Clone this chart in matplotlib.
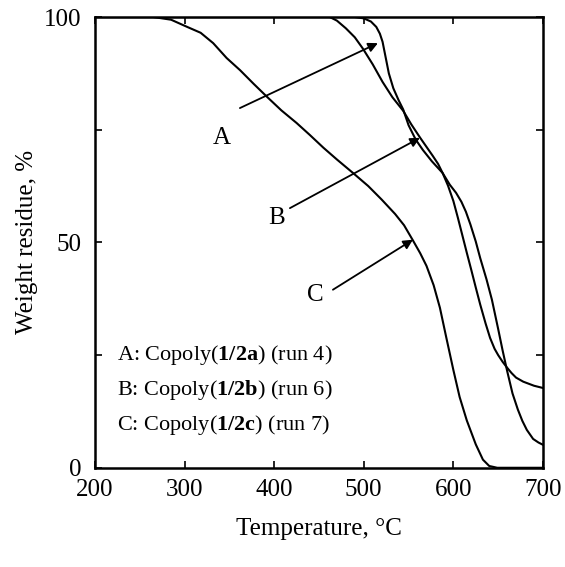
import matplotlib
matplotlib.use('Agg')
import matplotlib.pyplot as plt

plt.rcParams['font.family'] = ['Liberation Serif', 'DejaVu Serif']
plt.rcParams['mathtext.fontset'] = 'custom'
plt.rcParams['mathtext.rm'] = 'Liberation Serif'
plt.rcParams['mathtext.bf'] = 'Liberation Serif:bold'

# curve A: Copoly(1/2a) (run 4)
temp_a = [200, 490, 500, 508, 514, 518, 521, 524, 528, 533, 539, 544, 550, 558, 566, 576, 588,
          596, 603, 609, 614, 619, 625, 630, 637, 643, 650, 655, 660, 666, 672, 677, 682, 689, 695, 700]
wt_a = [100, 100, 99.7, 99.0, 97.8, 96.3, 94.5, 91.5, 87.5, 84.2, 81.5, 79.5, 76.0, 72.8, 70.5, 68.0, 65.4,
        62.8, 61.0, 59.0, 56.8, 54.0, 50.2, 46.5, 41.8, 37.3, 30.8, 26.0, 21.5, 16.5, 12.9, 10.4, 8.4, 6.4, 5.6, 5.1]

# curve B: Copoly(1/2b) (run 6)
temp_b = [200, 462, 470, 480, 490, 499, 510, 521, 532, 544, 553, 563, 570, 577, 583, 588, 594,
          600, 605, 610, 615, 620, 625, 630, 636, 641, 646, 650, 655, 660, 665, 670, 678, 690, 700]
wt_b = [100, 100, 99.2, 97.5, 95.5, 93.0, 89.5, 85.6, 82.2, 79.2, 76.2, 73.2, 71.2, 69.2, 67.4, 65.4, 62.6,
        59.2, 55.5, 51.6, 47.7, 43.9, 40.0, 36.2, 32.0, 28.8, 26.4, 25.0, 23.5, 22.2, 21.0, 20.0, 19.1, 18.2, 17.7]

# curve C: Copoly(1/2c) (run 7)
temp_c = [200, 265, 285, 303, 318, 332, 347, 362, 377, 392, 408, 425, 440, 455, 470, 488, 505,
          520, 535, 545, 555, 563, 570, 578, 585, 592, 600, 607, 615, 625, 633, 640, 649, 700]
wt_c = [100, 100, 99.4, 97.8, 96.5, 94.2, 90.9, 88.2, 85.2, 82.3, 79.3, 76.5, 73.8, 71.0, 68.4, 65.4, 62.5,
        59.5, 56.3, 53.8, 50.4, 47.6, 44.8, 40.5, 35.5, 29.0, 21.7, 15.7, 10.5, 5.2, 1.8, 0.4, 0, 0]

legend_lines = ['A: Copoly($\\mathbf{1/2a}$) (run 4)',
                'B: Copoly($\\mathbf{1/2b}$) (run 6)',
                'C: Copoly($\\mathbf{1/2c}$) (run 7)']

fig = plt.figure(figsize=(5.65, 5.67), dpi=100)
ax = fig.add_axes([0.168, 0.175, 0.793, 0.795])

for t, w in [(temp_a, wt_a), (temp_b, wt_b), (temp_c, wt_c)]:
    ax.plot(t, w, color='black', lw=1.5, solid_joinstyle='round')

ax.set_xlim(200, 700)
ax.set_ylim(0, 100)
ax.set_xticks([200, 300, 400, 500, 600, 700])
ax.set_yticks([0, 25, 50, 75, 100])
ax.set_yticklabels(['0', '', '50', '', '100'])
ax.tick_params(direction='in', top=True, right=True, length=5, width=1.2,
               labelsize=18)
ax.tick_params(axis='x', pad=8)
ax.tick_params(axis='y', pad=10)
for s in ax.spines.values():
    s.set_linewidth(1.8)

ax.set_xlabel('Temperature, °C', fontsize=18, labelpad=12)
ax.set_ylabel('Weight residue, %', fontsize=18, labelpad=4)

arrow = dict(arrowstyle='-|>', color='black', lw=1.3, mutation_scale=14,
             shrinkA=0, shrinkB=0)
ax.annotate('', xy=(515.8, 94.2), xytext=(361.8, 79.8), arrowprops=arrow)
ax.annotate('', xy=(562.7, 73.2), xytext=(417.6, 57.6), arrowprops=arrow)
ax.annotate('', xy=(554.9, 50.6), xytext=(465.6, 39.5), arrowprops=arrow)
ax.text(341.7, 73.2, 'A', fontsize=18, ha='center', va='center')
ax.text(403, 55.4, 'B', fontsize=18, ha='center', va='center')
ax.text(445.5, 38.4, 'C', fontsize=18, ha='center', va='center')

for i, s in enumerate(legend_lines):
    ax.text(224.5, 25.1 - 7.8 * i, s, fontsize=16, ha='left', va='center')

fig.savefig('out.png', dpi=100)
